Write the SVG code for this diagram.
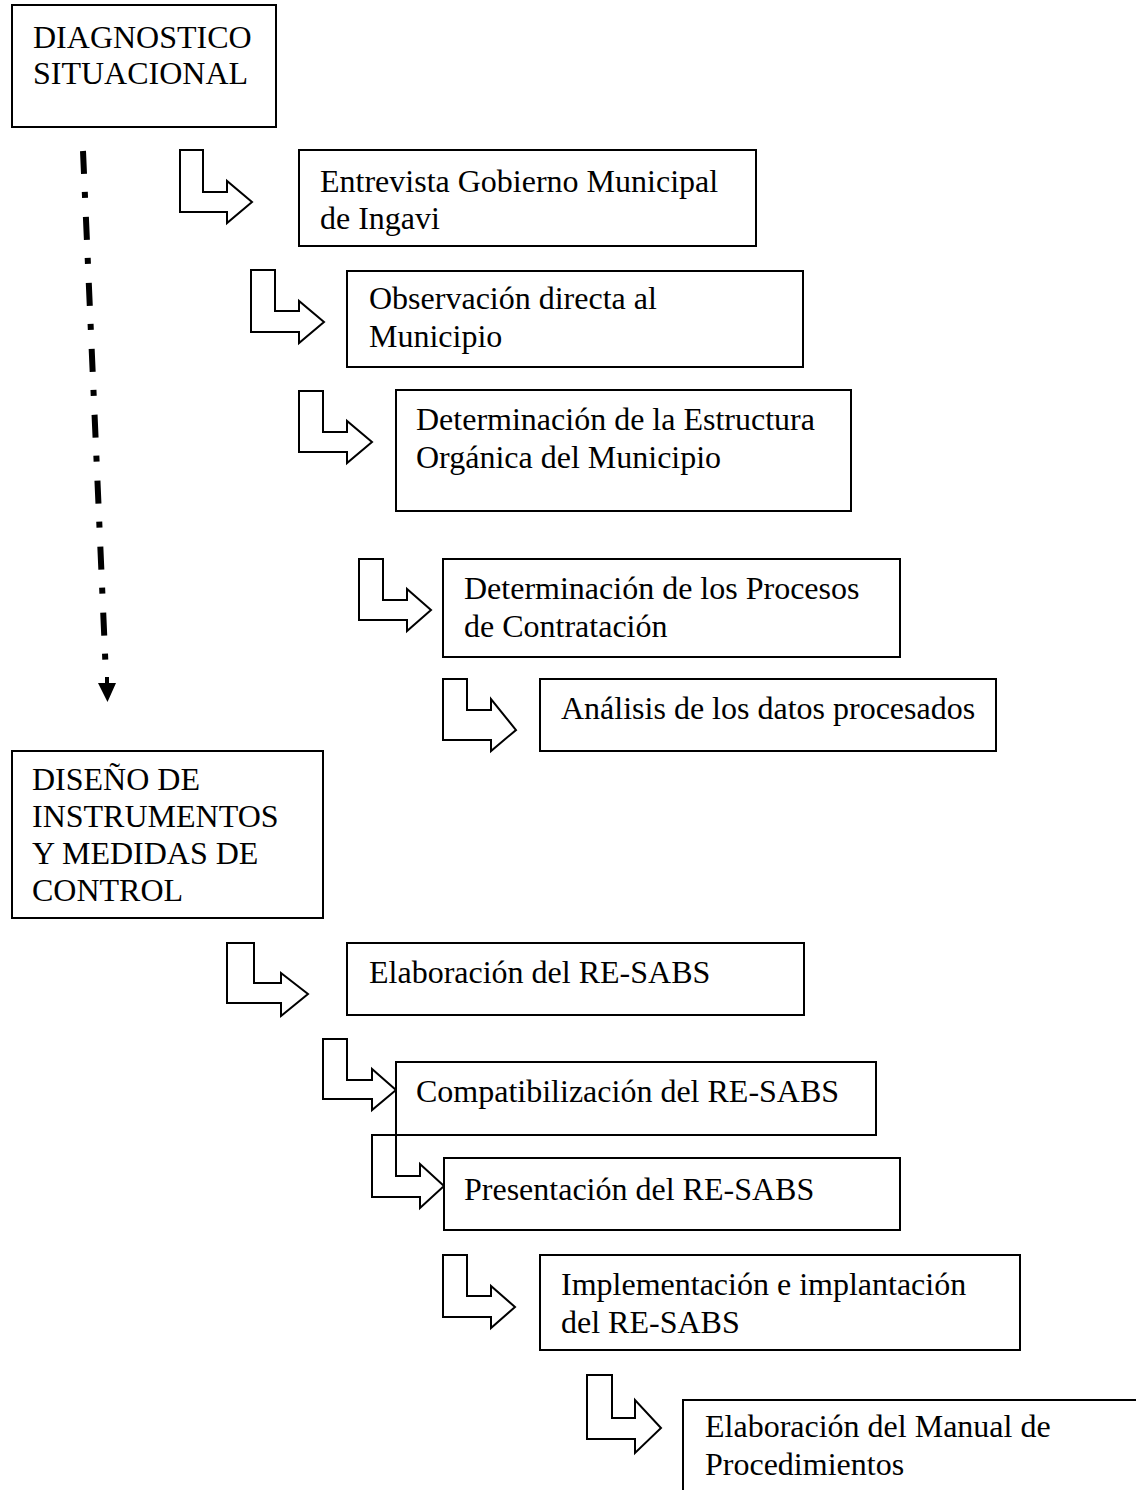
<svg xmlns="http://www.w3.org/2000/svg" width="1136" height="1490" viewBox="0 0 1136 1490">
  <style>
    .box { fill: #ffffff; stroke: #000000; stroke-width: 2; }
    .bend { fill: #ffffff; stroke: #000000; stroke-width: 2; stroke-linejoin: miter; }
    .lbl { font-family: "Liberation Serif", "Times New Roman", serif; font-size: 32px; fill: #000000; }
    .flow { fill: none; stroke: #000000; stroke-width: 6; stroke-dasharray: 23 18 6 19; }
  </style>
  <rect width="1136" height="1490" fill="#ffffff"/>

  <!-- Main phase flow: dash-dot line with arrowhead -->
  <g id="connectors">
    <line class="flow" x1="83" y1="151" x2="106" y2="676"/>
    <polygon points="105,677 109,677 109,683 116,683 107.5,702 98,683 105,683" fill="#000000"/>

    <!-- bent block arrows pointing into each step -->
    <path class="bend" d="M180,150 H203 V192 H227 V181 L252,202 L227,223 V212 H180 Z"/>
    <path class="bend" d="M251,270 H275 V311 H299 V301 L324,322 L299,343 V332 H251 Z"/>
    <path class="bend" d="M299,391 H323 V432 H347 V421 L372,442 L347,463 V452 H299 Z"/>
    <path class="bend" d="M359,559 H383 V600 H407 V589 L431,610 L407,631 V620 H359 Z"/>
    <path class="bend" d="M443,679 H467 V710 H491 V699 L516,730 L491,751 V740 H443 Z"/>
    <path class="bend" d="M227,943 H254 V983 H281 V973 L308,994 L281,1016 V1003 H227 Z"/>
    <path class="bend" d="M323,1039 H347 V1080 H372 V1069 L396,1090 L372,1110 V1099 H323 Z"/>
    <path class="bend" d="M372,1135 H396 V1176 H420 V1164 L444,1186 L420,1208 V1197 H372 Z"/>
    <path class="bend" d="M443,1255 H467 V1296 H491 V1286 L515,1307 L491,1328 V1317 H443 Z"/>
    <path class="bend" d="M587,1375 H612 V1418 H635 V1400 L661,1428 L635,1453 V1439 H587 Z"/>
  </g>

  <g id="diagnostico">
    <rect class="box" x="12" y="5" width="264" height="122"/>
    <text class="lbl" x="33" y="48">DIAGNOSTICO</text>
    <text class="lbl" x="33" y="84">SITUACIONAL</text>
  </g>

  <g id="entrevista">
    <rect class="box" x="299" y="150" width="457" height="96"/>
    <text class="lbl" x="320" y="192">Entrevista Gobierno Municipal</text>
    <text class="lbl" x="320" y="229">de Ingavi</text>
  </g>

  <g id="observacion">
    <rect class="box" x="347" y="271" width="456" height="96"/>
    <text class="lbl" x="369" y="309">Observación directa al</text>
    <text class="lbl" x="369" y="347">Municipio</text>
  </g>

  <g id="estructura">
    <rect class="box" x="396" y="390" width="455" height="121"/>
    <text class="lbl" x="416" y="430">Determinación de la Estructura</text>
    <text class="lbl" x="416" y="468">Orgánica del Municipio</text>
  </g>

  <g id="procesos">
    <rect class="box" x="443" y="559" width="457" height="98"/>
    <text class="lbl" x="464" y="599">Determinación de los Procesos</text>
    <text class="lbl" x="464" y="637">de Contratación</text>
  </g>

  <g id="analisis">
    <rect class="box" x="540" y="679" width="456" height="72"/>
    <text class="lbl" x="561" y="719">Análisis de los datos procesados</text>
  </g>

  <g id="diseno">
    <rect class="box" x="12" y="751" width="311" height="167"/>
    <text class="lbl" x="32" y="790">DISEÑO DE</text>
    <text class="lbl" x="32" y="827">INSTRUMENTOS</text>
    <text class="lbl" x="32" y="864">Y MEDIDAS DE</text>
    <text class="lbl" x="32" y="901">CONTROL</text>
  </g>

  <g id="elaboracion-resabs">
    <rect class="box" x="347" y="943" width="457" height="72"/>
    <text class="lbl" x="369" y="983">Elaboración del RE-SABS</text>
  </g>

  <g id="compatibilizacion">
    <rect class="box" x="396" y="1062" width="480" height="73"/>
    <text class="lbl" x="416" y="1102">Compatibilización del RE-SABS</text>
  </g>

  <g id="presentacion">
    <rect class="box" x="444" y="1158" width="456" height="72"/>
    <text class="lbl" x="464" y="1200">Presentación del RE-SABS</text>
  </g>

  <g id="implementacion">
    <rect class="box" x="540" y="1255" width="480" height="95"/>
    <text class="lbl" x="561" y="1295">Implementación e implantación</text>
    <text class="lbl" x="561" y="1333">del RE-SABS</text>
  </g>

  <g id="manual">
    <rect class="box" x="683" y="1400" width="480" height="120"/>
    <text class="lbl" x="705" y="1437">Elaboración del Manual de</text>
    <text class="lbl" x="705" y="1475">Procedimientos</text>
  </g>
</svg>
